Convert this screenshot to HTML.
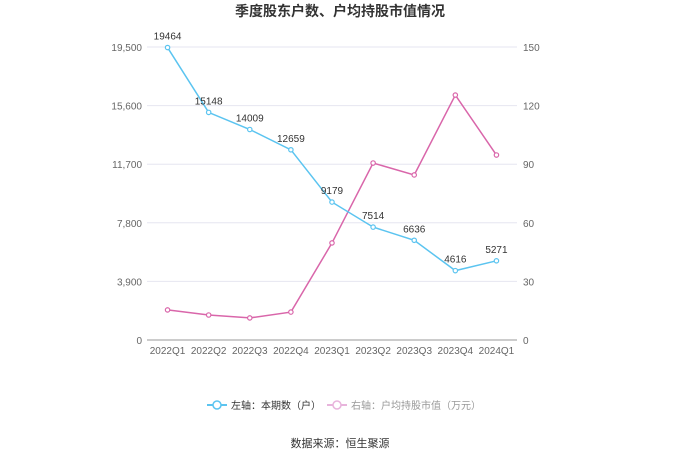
<!DOCTYPE html>
<html><head><meta charset="utf-8"><style>
body{margin:0;background:#fff;font-family:"Liberation Sans","Noto Sans CJK SC",sans-serif;}
</style></head><body>
<svg id="c" width="680" height="460" viewBox="0 0 680 460" xmlns="http://www.w3.org/2000/svg" font-family="Liberation Sans, Noto Sans CJK SC, sans-serif">
<text x="340" y="16" text-anchor="middle" font-size="14" font-weight="bold" fill="#333">季度股东户数、户均持股市值情况</text>
<g id="grid"></g><g id="axes"></g><g id="series"></g>
<g>
<g>
<line x1="207" y1="405" x2="227" y2="405" stroke="#5bc4f0" stroke-width="2"/>
<circle cx="217" cy="405" r="4" fill="#fff" stroke="#5bc4f0" stroke-width="1.5"/>
<text x="231" y="409" font-size="10" fill="#333">左轴：本期数（户）</text></g>
<g>
<line x1="327" y1="405" x2="347" y2="405" stroke="#e8b4dc" stroke-width="2"/>
<circle cx="337" cy="405" r="4" fill="#fff" stroke="#e8b4dc" stroke-width="1.5"/>
<text x="351" y="409" font-size="10" fill="#999">右轴：户均持股市值（万元）</text></g>
</g>
<text x="340" y="447" text-anchor="middle" font-size="11" fill="#333">数据来源：恒生聚源</text>
</svg>
<script>
const categories=["2022Q1","2022Q2","2022Q3","2022Q4","2023Q1","2023Q2","2023Q3","2023Q4","2024Q1"];
const holders=[19464,15148,14009,12659,9179,7514,6636,4616,5271];
const avgValue=[15.4,12.8,11.3,14.3,49.7,90.6,84.5,125.4,94.7];
const leftTicks=[0,3900,7800,11700,15600,19500];
const rightTicks=[0,30,60,90,120,150];
const NS="http://www.w3.org/2000/svg";
const x0=147,x1=517,yB=340,yT=47;
const xs=i=>x0+(x1-x0)/categories.length*(i+0.5);
const yl=v=>yB-(v/19500)*(yB-yT);
const yr=v=>yB-(v/150)*(yB-yT);
function mk(t,a,p){const e=document.createElementNS(NS,t);for(const k in a)e.setAttribute(k,a[k]);p.appendChild(e);return e;}
const grid=document.getElementById('grid'),axes=document.getElementById('axes'),ser=document.getElementById('series');
leftTicks.forEach((v,i)=>{
 const g=mk('line',{x1:x0,x2:x1,y1:yl(v),y2:yl(v),stroke:i==0?'#999':'#e6e6f0','stroke-width':1},grid);
 
 
 const t=mk('text',{x:x0-5,y:yl(v)+4,'text-anchor':'end','font-size':10,fill:'#666'},axes);t.textContent=v.toLocaleString('en-US');
 
 
});
rightTicks.forEach(v=>{
 const t=mk('text',{x:x1+6,y:yr(v)+4,'font-size':10,fill:'#666'},axes);t.textContent=v;
 
 
});
categories.forEach((c,i)=>{
 const t=mk('text',{x:xs(i),y:yB+14,'text-anchor':'middle','font-size':10,fill:'#666'},axes);t.textContent=c;
 
 
});
function line(vals,f,col,name,labels){
 const p=mk('polyline',{points:vals.map((v,i)=>xs(i)+','+f(v)).join(' '),fill:'none',stroke:col,'stroke-width':1.5},ser);
 
 
 vals.forEach((v,i)=>{
  const c=mk('circle',{cx:xs(i),cy:f(v),r:2.2,fill:'#fff',stroke:col,'stroke-width':1.2},ser);
  
  
  if(labels){const t=mk('text',{x:xs(i),y:f(v)-8,'text-anchor':'middle','font-size':10,fill:'#333'},ser);t.textContent=v;
  
  }
 });
}
line(avgValue,yr,'#d966aa','avg-value',false);
line(holders,yl,'#5bc4f0','holders',true);
</script>
</body></html>
